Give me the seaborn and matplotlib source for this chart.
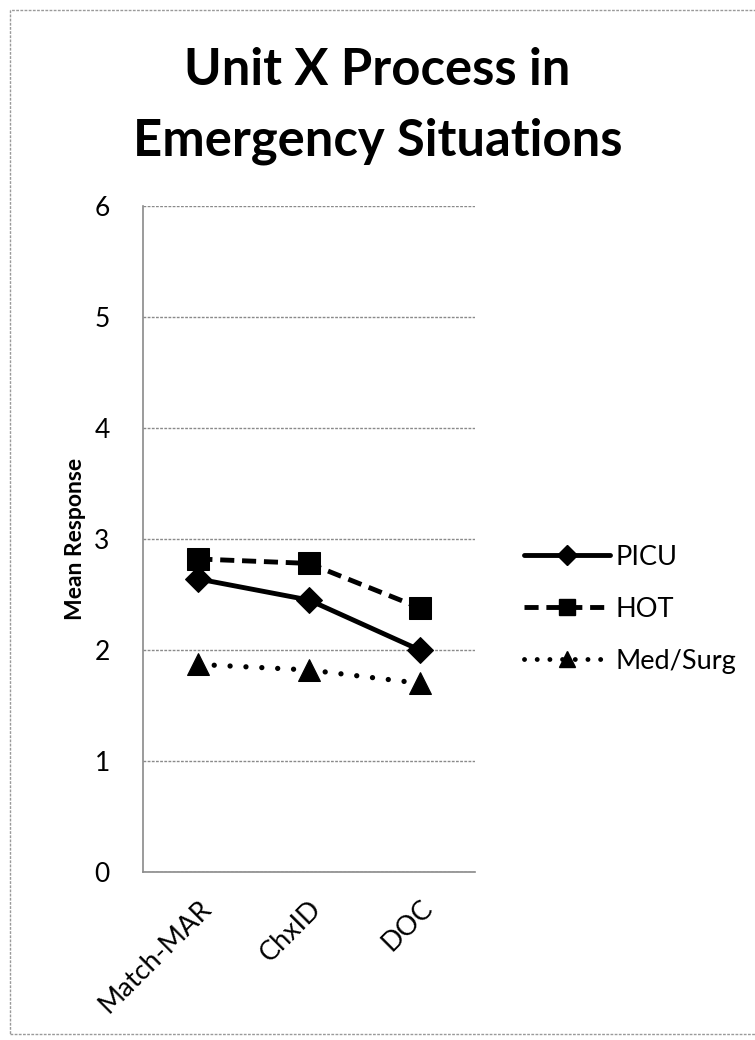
import matplotlib
matplotlib.use("Agg")
import matplotlib.pyplot as plt
import seaborn as sns
import pandas as pd
from matplotlib.patches import Rectangle
from matplotlib.lines import Line2D

categories = ["Match-MAR", "ChxID", "DOC"]
picu = [2.64, 2.45, 2.00]
hot = [2.82, 2.78, 2.38]
medsurg = [1.87, 1.82, 1.70]
series_names = ["PICU", "HOT", "Med/Surg"]
y_ticks = [0, 1, 2, 3, 4, 5, 6]

sns.set_theme(style="white")
plt.rcParams['font.family'] = ['Lato', 'DejaVu Sans']
plt.rcParams['text.color'] = 'black'
plt.rcParams['axes.labelcolor'] = 'black'
plt.rcParams['xtick.color'] = 'black'
plt.rcParams['ytick.color'] = 'black'

rows = []
for name, vals in zip(series_names, [picu, hot, medsurg]):
    for i, (c, v) in enumerate(zip(categories, vals)):
        rows.append({"x": i, "Category": c, "Series": name, "Value": v})
df = pd.DataFrame(rows)

fig = plt.figure(figsize=(7.55, 10.4), dpi=100)
ax = fig.add_axes([143/755, 1 - 872/1040, 332/755, 666/1040])

markers = {"PICU": "D", "HOT": "s", "Med/Surg": "^"}
dashes = {"PICU": "", "HOT": (2.9, 1.6), "Med/Surg": (0.01, 3.0)}
palette = {n: "black" for n in series_names}
sizes_m = {"PICU": 13, "HOT": 16, "Med/Surg": 16}

sns.lineplot(data=df, x="x", y="Value", hue="Series", style="Series",
             markers=markers, dashes=dashes, palette=palette,
             hue_order=series_names, style_order=series_names,
             linewidth=3.5, markersize=13, ax=ax, legend=False)

for line, name in zip(ax.lines, series_names):
    line.set_markersize(sizes_m[name])
    line.set_markeredgecolor("black")
    line.set_markerfacecolor("black")
    if name == "Med/Surg":
        line.set_dash_capstyle("round")
        line.set_linewidth(3.8)

ax.set_xlim(-0.5, 2.5)
ax.set_ylim(0, 6)
ax.set_yticks(y_ticks)
ax.set_yticklabels([str(t) for t in y_ticks], fontsize=19)
ax.set_xticks(range(len(categories)))
ax.set_xticklabels(categories, rotation=45, ha="right", rotation_mode="anchor", fontsize=19.5)
ax.tick_params(axis="x", length=0, pad=17)
ax.tick_params(axis="y", length=0, pad=24)
ax.set_xlabel("")
ax.set_ylabel("Mean Response", fontsize=16.5, fontweight="bold", labelpad=6)

ax.grid(axis="y", color="#8a8a8a", linewidth=1.0, linestyle=(0, (2, 1)))
ax.set_axisbelow(True)
for s in ["top", "right"]:
    ax.spines[s].set_visible(False)
for s in ["left", "bottom"]:
    ax.spines[s].set_color("#8a8a8a")
    ax.spines[s].set_linewidth(1.2)
    ax.spines[s].set_linestyle((0, (2, 1)))

handles = []
for name in series_names:
    h = Line2D([0], [0], color="black", linewidth=3.5, marker=markers[name],
               markersize=sizes_m[name] * 0.75,
               linestyle="-" if name == "PICU" else ((0, (2.9, 1.6)) if name == "HOT" else (0, (0.01, 2.6))),
               dash_capstyle="round" if name == "Med/Surg" else "butt")
    handles.append(h)
leg = fig.legend(handles, series_names, loc="upper left",
                 bbox_to_anchor=(510/755, 1 - 531/1040), frameon=False,
                 fontsize=19.5, handlelength=3.2, handletextpad=0.2,
                 labelspacing=1.0, borderpad=0)

fig.suptitle("Unit X Process in\nEmergency Situations", x=0.5, y=1 - 47/1040,
             fontsize=36.5, fontweight="bold", linespacing=1.62, va="top")

fig.patches.append(Rectangle((10/755, 6/1040), 760/755, 1024/1040,
                             transform=fig.transFigure, fill=False,
                             edgecolor="#9a9a9a", linewidth=1.0,
                             linestyle=(0, (2, 1))))

fig.savefig("out.png", dpi=100)
